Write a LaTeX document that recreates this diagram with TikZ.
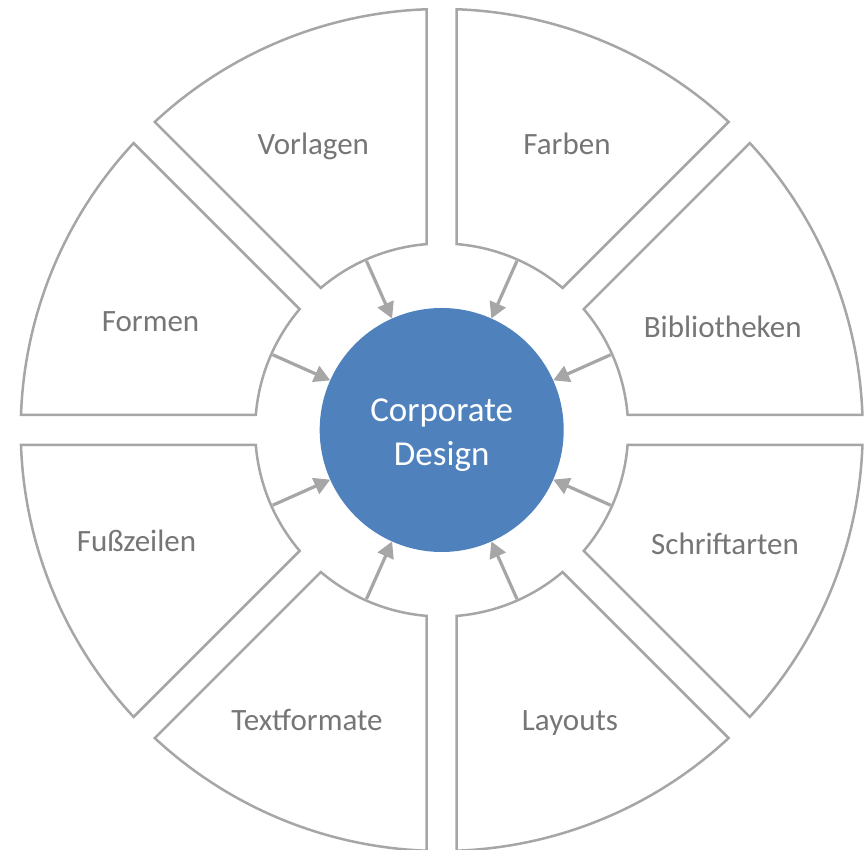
\documentclass[tikz,border=0pt]{standalone}
\usepackage{fontspec}
\setmainfont{Carlito}
\usetikzlibrary{arrows.meta}
\definecolor{segline}{RGB}{166,166,166}
\definecolor{labelgray}{RGB}{118,118,118}
\definecolor{cdblue}{RGB}{79,129,189}
\tikzset{
  seg/.style={draw=segline, line width=2.5pt, line join=miter, fill=white},
  lbl/.style={text=labelgray, font=\fontsize{31}{37}\selectfont, anchor=base, inner sep=0pt},
  arr/.style={draw=segline, line width=3.2pt, -{Triangle[length=16pt,width=17pt]}},
  hub/.style={circle, fill=cdblue, minimum size=244pt, inner sep=0pt, outer sep=0pt},
  hubtext/.style={text=white, align=center, inner sep=0pt, font=\fontsize{35}{44}\selectfont}
}
\begin{document}
\begin{tikzpicture}[x=1pt,y=1pt]
\useasboundingbox (0,0) rectangle (867,850);
\def\Ro{421}
\def\ri{186.5}
\pgfmathsetmacro\aR{asin(15/\Ro)}
\pgfmathsetmacro\ar{asin(15/\ri)}
\begin{scope}[shift={(441.7,420)}]
  \foreach \a in {0,45,...,315} {
    \draw[seg] ({\a+\ar}:\ri) -- ({\a+\aR}:\Ro)
      arc[start angle={\a+\aR}, end angle={\a+45-\aR}, radius=\Ro]
      -- ({\a+45-\ar}:\ri)
      arc[start angle={\a+45-\ar}, end angle={\a+\ar}, radius=\ri] -- cycle;
  }
  \node[hub, label={[hubtext, yshift=-5pt]center:{Corporate\\Design}}] (cd) at (0,0) {};
  \foreach \b [count=\i] in {24,66,114,156,204,246,294,336} {
    \coordinate (s\i) at (\b:185);
    \draw[arr] (s\i) -- (cd.\b);
  }
\end{scope}
\node[lbl] (vorlagen) at (313.3,695) {Vorlagen};
\node[lbl] (farben) at (567,695) {Farben};
\node[lbl] (biblio) at (722.7,512.7) {Bibliotheken};
\node[lbl] (formen) at (150.5,518) {Formen};
\node[lbl] (schrift) at (725,295) {Schriftarten};
\node[lbl] (fuss) at (136.5,298) {Fußzeilen};
\node[lbl] (textf) at (307,119) {Textformate};
\node[lbl] (layouts) at (570,119) {Layouts};
\end{tikzpicture}
\end{document}
